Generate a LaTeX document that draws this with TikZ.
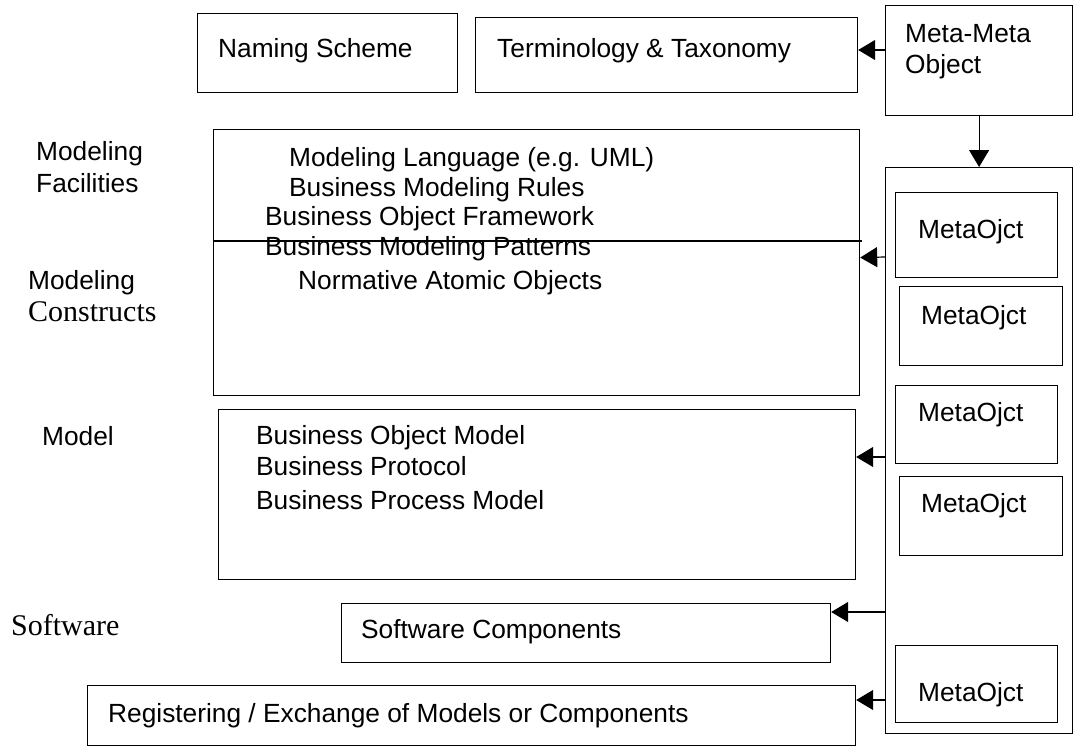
\documentclass[tikz,border=0pt]{standalone}
\usepackage{fontspec}
\setmainfont{Liberation Sans}
\newfontfamily\seriffont{Liberation Serif}
\usetikzlibrary{arrows.meta,positioning}

\tikzset{
	box/.style={draw,line width=1.2pt,anchor=north west,inner sep=0pt},
	txt/.style={anchor=base west,inner sep=0pt,font=\fontsize{26.3}{31}\selectfont},
	stxt/.style={anchor=base west,inner sep=0pt,font=\seriffont\fontsize{30}{35}\selectfont},
	arr/.style={line width=1.2pt,-{Triangle[length=17pt,width=20pt]}}
}

\begin{document}
\begin{tikzpicture}[x=1pt,y=-1pt]
	\useasboundingbox (0,0) rectangle (1074,747);

	\node[box,minimum width=260pt,minimum height=79pt ] (naming)   at (197,13)  {};
	\node[box,minimum width=382pt,minimum height=75pt ] (termi)    at (475,17)  {};
	\node[box,minimum width=187pt,minimum height=110pt] (metameta) at (885,5)   {};
	\node[box,minimum width=646pt,minimum height=266pt] (modeling) at (213,129) {};
	\node[box,minimum width=637pt,minimum height=170pt] (model)    at (218,409) {};
	\node[box,minimum width=489pt,minimum height=59pt ] (soft)     at (341,603) {};
	\node[box,minimum width=768pt,minimum height=60pt ] (reg)      at (87,685)  {};
	\node[box,minimum width=187pt,minimum height=566pt] (column)   at (885,167) {};

	\node[box,minimum width=162pt,minimum height=85pt] (mo1) at (895,192) {};
	\node[box,minimum width=163pt,minimum height=79pt] (mo2) at (899,286) {};
	\node[box,minimum width=162pt,minimum height=78pt] (mo3) at (895,385) {};
	\node[box,minimum width=163pt,minimum height=79pt] (mo4) at (899,476) {};
	\node[box,minimum width=162pt,minimum height=77pt] (mo5) at (895,645) {};

	\node[txt] (tnaming) at (218,57) {Naming Scheme};
	\node[txt] (ttermi)  at (497,57) {Terminology \& Taxonomy};
	\node[txt] (tmeta1)  at (905,42) {Meta-Meta};
	\node[txt] (tmeta2)  at (905,73) {Object};

	\node[txt] (tmo1) at (918,238) {MetaOjct};
	\node[txt] (tmo2) at (921,324) {MetaOjct};
	\node[txt] (tmo3) at (918,421) {MetaOjct};
	\node[txt] (tmo4) at (921,512) {MetaOjct};
	\node[txt] (tmo5) at (918,701) {MetaOjct};

	\node[txt]  (lfac1)  at (36,160) {Modeling};
	\node[txt]  (lfac2)  at (36,192) {Facilities};
	\node[txt]  (lcon1)  at (28,289) {Modeling};
	\node[stxt] (lcon2)  at (28,321) {Constructs};
	\node[txt]  (lmodel) at (42,445) {Model};
	\node[stxt] (lsoft)  at (11,635) {Software};

	\node[txt] (tlang)  at (289,166) {Modeling Language (e.g. UML)};
	\node[txt] (trules) at (289,196) {Business Modeling Rules};
	\node[txt] (tframe) at (265,225) {Business Object Framework};
	\node[txt] (tpatt)  at (265,255) {Business Modeling Patterns};
	\node[txt] (tatom)  at (298,289) {Normative Atomic Objects};

	\node[txt] (tbom)   at (256,444) {Business Object Model};
	\node[txt] (tprot)  at (256,475) {Business Protocol};
	\node[txt] (tproc)  at (256,509) {Business Process Model};

	\node[txt] (tsoft)  at (361,638) {Software Components};
	\node[txt] (treg)   at (108,722) {Registering / Exchange of Models or Components};

	\draw[line width=1.2pt] (modeling.west |- 0,241) -- (862,241);

	\draw[arr] (metameta.west |- 0,50) -- (termi.east |- 0,50);
	\draw[arr] (metameta.south) -- (column.north);
	\draw[arr] (column.west |- 0,257) -- ([yshift=5]modeling.east);
	\draw[arr] (column.west |- 0,457) -- ([yshift=-48]model.north east);
	\draw[arr] (column.west |- 0,612) -- ([yshift=-9]soft.north east);
	\draw[arr] (column.west |- 0,700) -- ([yshift=-15]reg.north east);
\end{tikzpicture}
\end{document}
